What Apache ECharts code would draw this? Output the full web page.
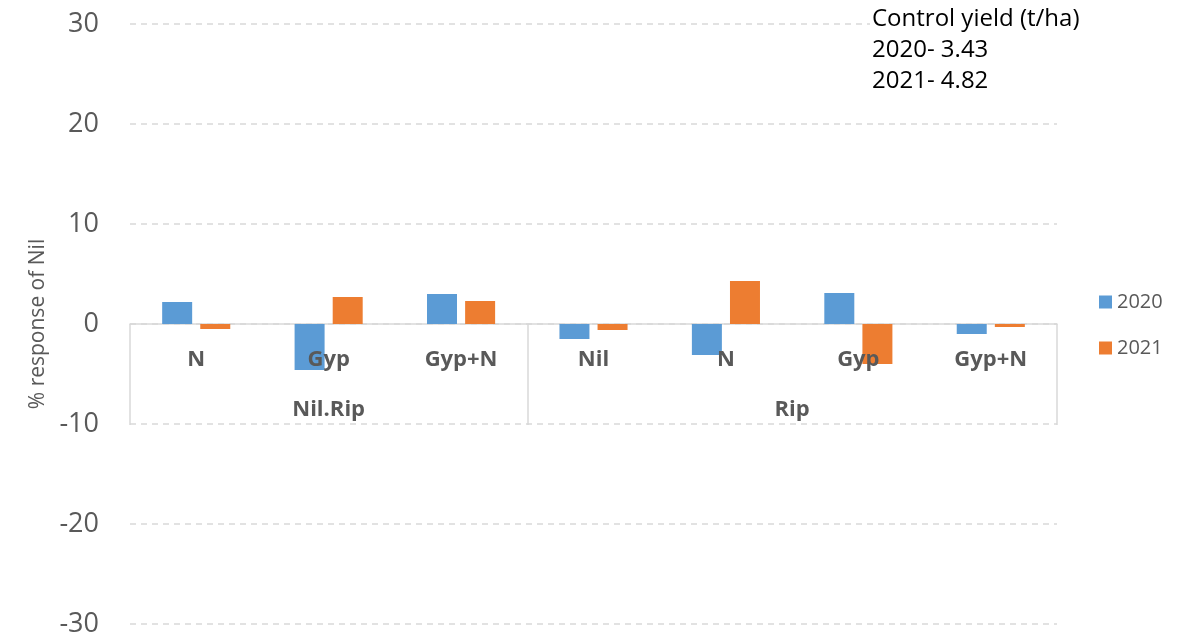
<!DOCTYPE html>
<html>
<head>
<meta charset="utf-8">
<script src="https://cdn.jsdelivr.net/npm/echarts@6/dist/echarts.min.js"></script>
<style>
  html, body { margin: 0; padding: 0; background: #fff; }
  #chart { width: 1185px; height: 639px; }
</style>
</head>
<body>
<div id="chart"></div>
<script>
// treatments (inner level) and their groups (outer level)
var categories = ['N', 'Gyp', 'Gyp+N', 'Nil', 'N', 'Gyp', 'Gyp+N'];
var groups = ['Nil.Rip', 'Rip'];
var groupSpans = [3, 4];

var serieNames = ['2020', '2021'];
var values2020 = [2.2, -4.6, 3.0, -1.5, -3.1, 3.1, -1.0];
var values2021 = [-0.5, 2.7, 2.3, -0.6, 4.3, -4.0, -0.3];

var yTicks = { min: -30, max: 30, step: 10 };
var note = ['Control yield (t/ha)', '2020- 3.43', '2021- 4.82'];

var grey = '#595959';
var light = '#d9d9d9';
var font = 'Open Sans';

// group boundaries and centres on a 0..n scale, for the second level of labels
var bounds = [0];
groupSpans.forEach(function (s) { bounds.push(bounds[bounds.length - 1] + s); });
var centres = {};
groups.forEach(function (g, i) { centres[(bounds[i] + bounds[i + 1]) / 2] = g; });

var labelStyle = { color: grey, fontSize: 22, fontWeight: 'bold', fontFamily: font };

var chart = echarts.init(document.getElementById('chart'));

chart.setOption({
    animation: false,
    textStyle: { fontFamily: font },
    color: ['#5b9bd5', '#ed7d31'],
    legend: {
        data: serieNames,
        orient: 'vertical',
        left: 1099,
        top: 292,
        padding: 0,
        itemWidth: 13,
        itemHeight: 13,
        itemGap: 26,
        icon: 'rect',
        textStyle: { color: grey, fontSize: 20, fontFamily: font }
    },
    grid: [
        { left: 130, right: 128, top: 24, bottom: 15, outerBoundsMode: 'none' },
        // strip below the zero line that holds both label levels
        { left: 130, right: 128, top: 324, height: 101, outerBoundsMode: 'none' }
    ],
    xAxis: [
        {
            type: 'category',
            gridIndex: 0,
            data: categories,
            axisLine: { onZero: true, lineStyle: { color: light, width: 1.5 } },
            axisTick: { show: false },
            axisLabel: { show: false }
        },
        {
            type: 'category',
            gridIndex: 1,
            position: 'bottom',
            data: categories,
            axisLine: { show: false },
            axisTick: { show: false },
            axisLabel: Object.assign({ margin: -76 }, labelStyle),
            z: 5
        },
        {
            type: 'value',
            gridIndex: 1,
            position: 'bottom',
            min: 0,
            max: bounds[bounds.length - 1],
            axisLine: { show: false },
            splitLine: { show: false },
            axisTick: {
                show: true,
                inside: true,
                length: 101,
                customValues: bounds,
                lineStyle: { color: light, width: 1.5 }
            },
            axisLabel: Object.assign({
                customValues: Object.keys(centres).map(Number),
                formatter: function (v) { return centres[v] || ''; },
                margin: -26
            }, labelStyle),
            z: 5
        }
    ],
    yAxis: [
        {
            type: 'value',
            gridIndex: 0,
            min: yTicks.min,
            max: yTicks.max,
            interval: yTicks.step,
            name: '% response of Nil',
            nameLocation: 'middle',
            nameGap: 81,
            nameRotate: 90,
            nameTextStyle: { color: grey, fontSize: 21, fontFamily: font },
            axisLine: { show: false },
            axisTick: { show: false },
            axisLabel: { color: grey, fontSize: 27, margin: 31, fontFamily: font },
            splitLine: { lineStyle: { color: light, type: [6, 5], width: 1.5 } }
        },
        {
            type: 'value',
            gridIndex: 1,
            show: false
        }
    ],
    series: [
        {
            name: serieNames[0],
            type: 'bar',
            data: values2020,
            barWidth: 30,
            barGap: '27%',
            xAxisIndex: 0,
            yAxisIndex: 0,
            z: 2
        },
        {
            name: serieNames[1],
            type: 'bar',
            data: values2021,
            barWidth: 30,
            xAxisIndex: 0,
            yAxisIndex: 0,
            z: 2
        }
    ],
    graphic: [
        {
            type: 'text',
            left: 870,
            top: 4,
            z: 10,
            style: {
                text: note.join('\n'),
                fill: '#000',
                font: '24px "Open Sans"',
                lineHeight: 31,
                backgroundColor: '#fff',
                padding: [0, 2]
            }
        }
    ]
});
</script>
</body>
</html>
